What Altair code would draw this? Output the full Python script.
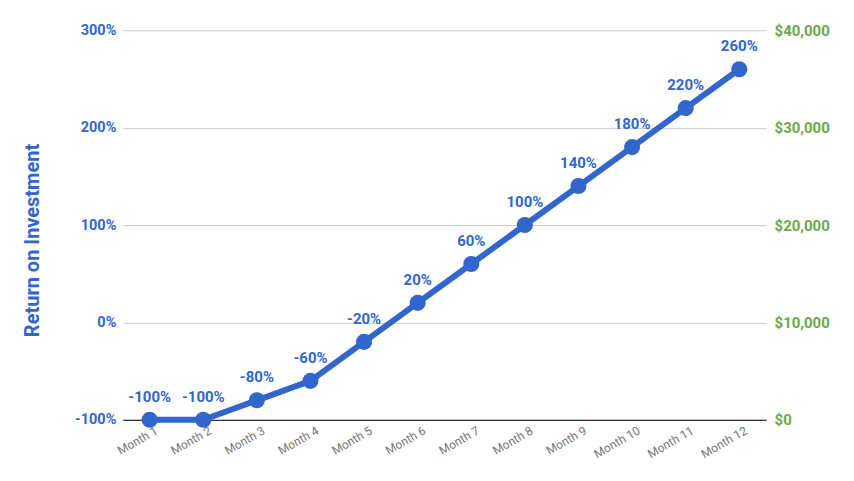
import altair as alt
import pandas as pd

# ROI per month
months = ["Month 1", "Month 2", "Month 3", "Month 4", "Month 5", "Month 6",
          "Month 7", "Month 8", "Month 9", "Month 10", "Month 11", "Month 12"]
roi = [-100, -100, -80, -60, -20, 20, 60, 100, 140, 180, 220, 260]
roi_ticks = [-100, 0, 100, 200, 300]
money_ticks = [0, 10000, 20000, 30000, 40000]

df = pd.DataFrame({"month": months, "roi": roi})
df["label"] = df["roi"].astype(str) + "%"

blue = "#3366cc"
green = "#6aa84f"

x_enc = alt.X("month:N", sort=months, scale=alt.Scale(paddingInner=0, paddingOuter=0.5),
              axis=alt.Axis(title=None, labelAngle=-30, labelAlign="right", labelBaseline="top",
                            labelColor="#777777", labelFontSize=12, labelPadding=5, labelOffset=4,
                            ticks=False, domainColor="#333333", domainWidth=1.2, grid=False))

y_left = alt.Y("roi:Q", scale=alt.Scale(domain=[-100, 300], nice=False),
               axis=alt.Axis(title="Return on Investment", values=roi_ticks,
                             labelExpr="datum.value + '%'", labelColor=blue,
                             labelFontSize=14.5, labelFontWeight="bold", labelPadding=7,
                             ticks=False, domain=False, gridColor="#cccccc",
                             titleColor=blue, titleFontSize=20, titleFontWeight="bold",
                             titleX=-90, titleY=210, titleAngle=-90, titleAlign="center",
                             titleBaseline="middle"))

base = alt.Chart(df).encode(x=x_enc)

line = base.mark_line(color=blue, strokeWidth=6).encode(y=y_left)
points = base.mark_circle(color=blue, size=260, opacity=1).encode(y=alt.Y("roi:Q"))
labels = base.mark_text(color=blue, fontSize=15, fontWeight="bold", dy=-23).encode(
    y=alt.Y("roi:Q"), text="label:N")

left = alt.layer(line, points, labels)

right = alt.Chart(df).mark_point(opacity=0).encode(
    x=alt.X("month:N", sort=months),
    y=alt.YDatum(0, type="quantitative",
                 scale=alt.Scale(domain=[0, 40000], nice=False),
                 axis=alt.Axis(title=None, orient="right", values=money_ticks,
                               labelExpr="'$' + format(datum.value, ',')",
                               labelColor=green, labelFontSize=15, labelFontWeight="bold",
                               labelPadding=8, ticks=False, domain=False, grid=False)))

chart = alt.layer(left, right).resolve_scale(y="independent").properties(
    width=644, height=390,
    autosize=alt.AutoSizeParams(type="none"),
    padding={"left": 115, "top": 22, "right": 80, "bottom": 55},
).configure(font="Roboto").configure_view(stroke=None)

chart.save("out.html", embed_options={"renderer": "svg", "actions": False})
